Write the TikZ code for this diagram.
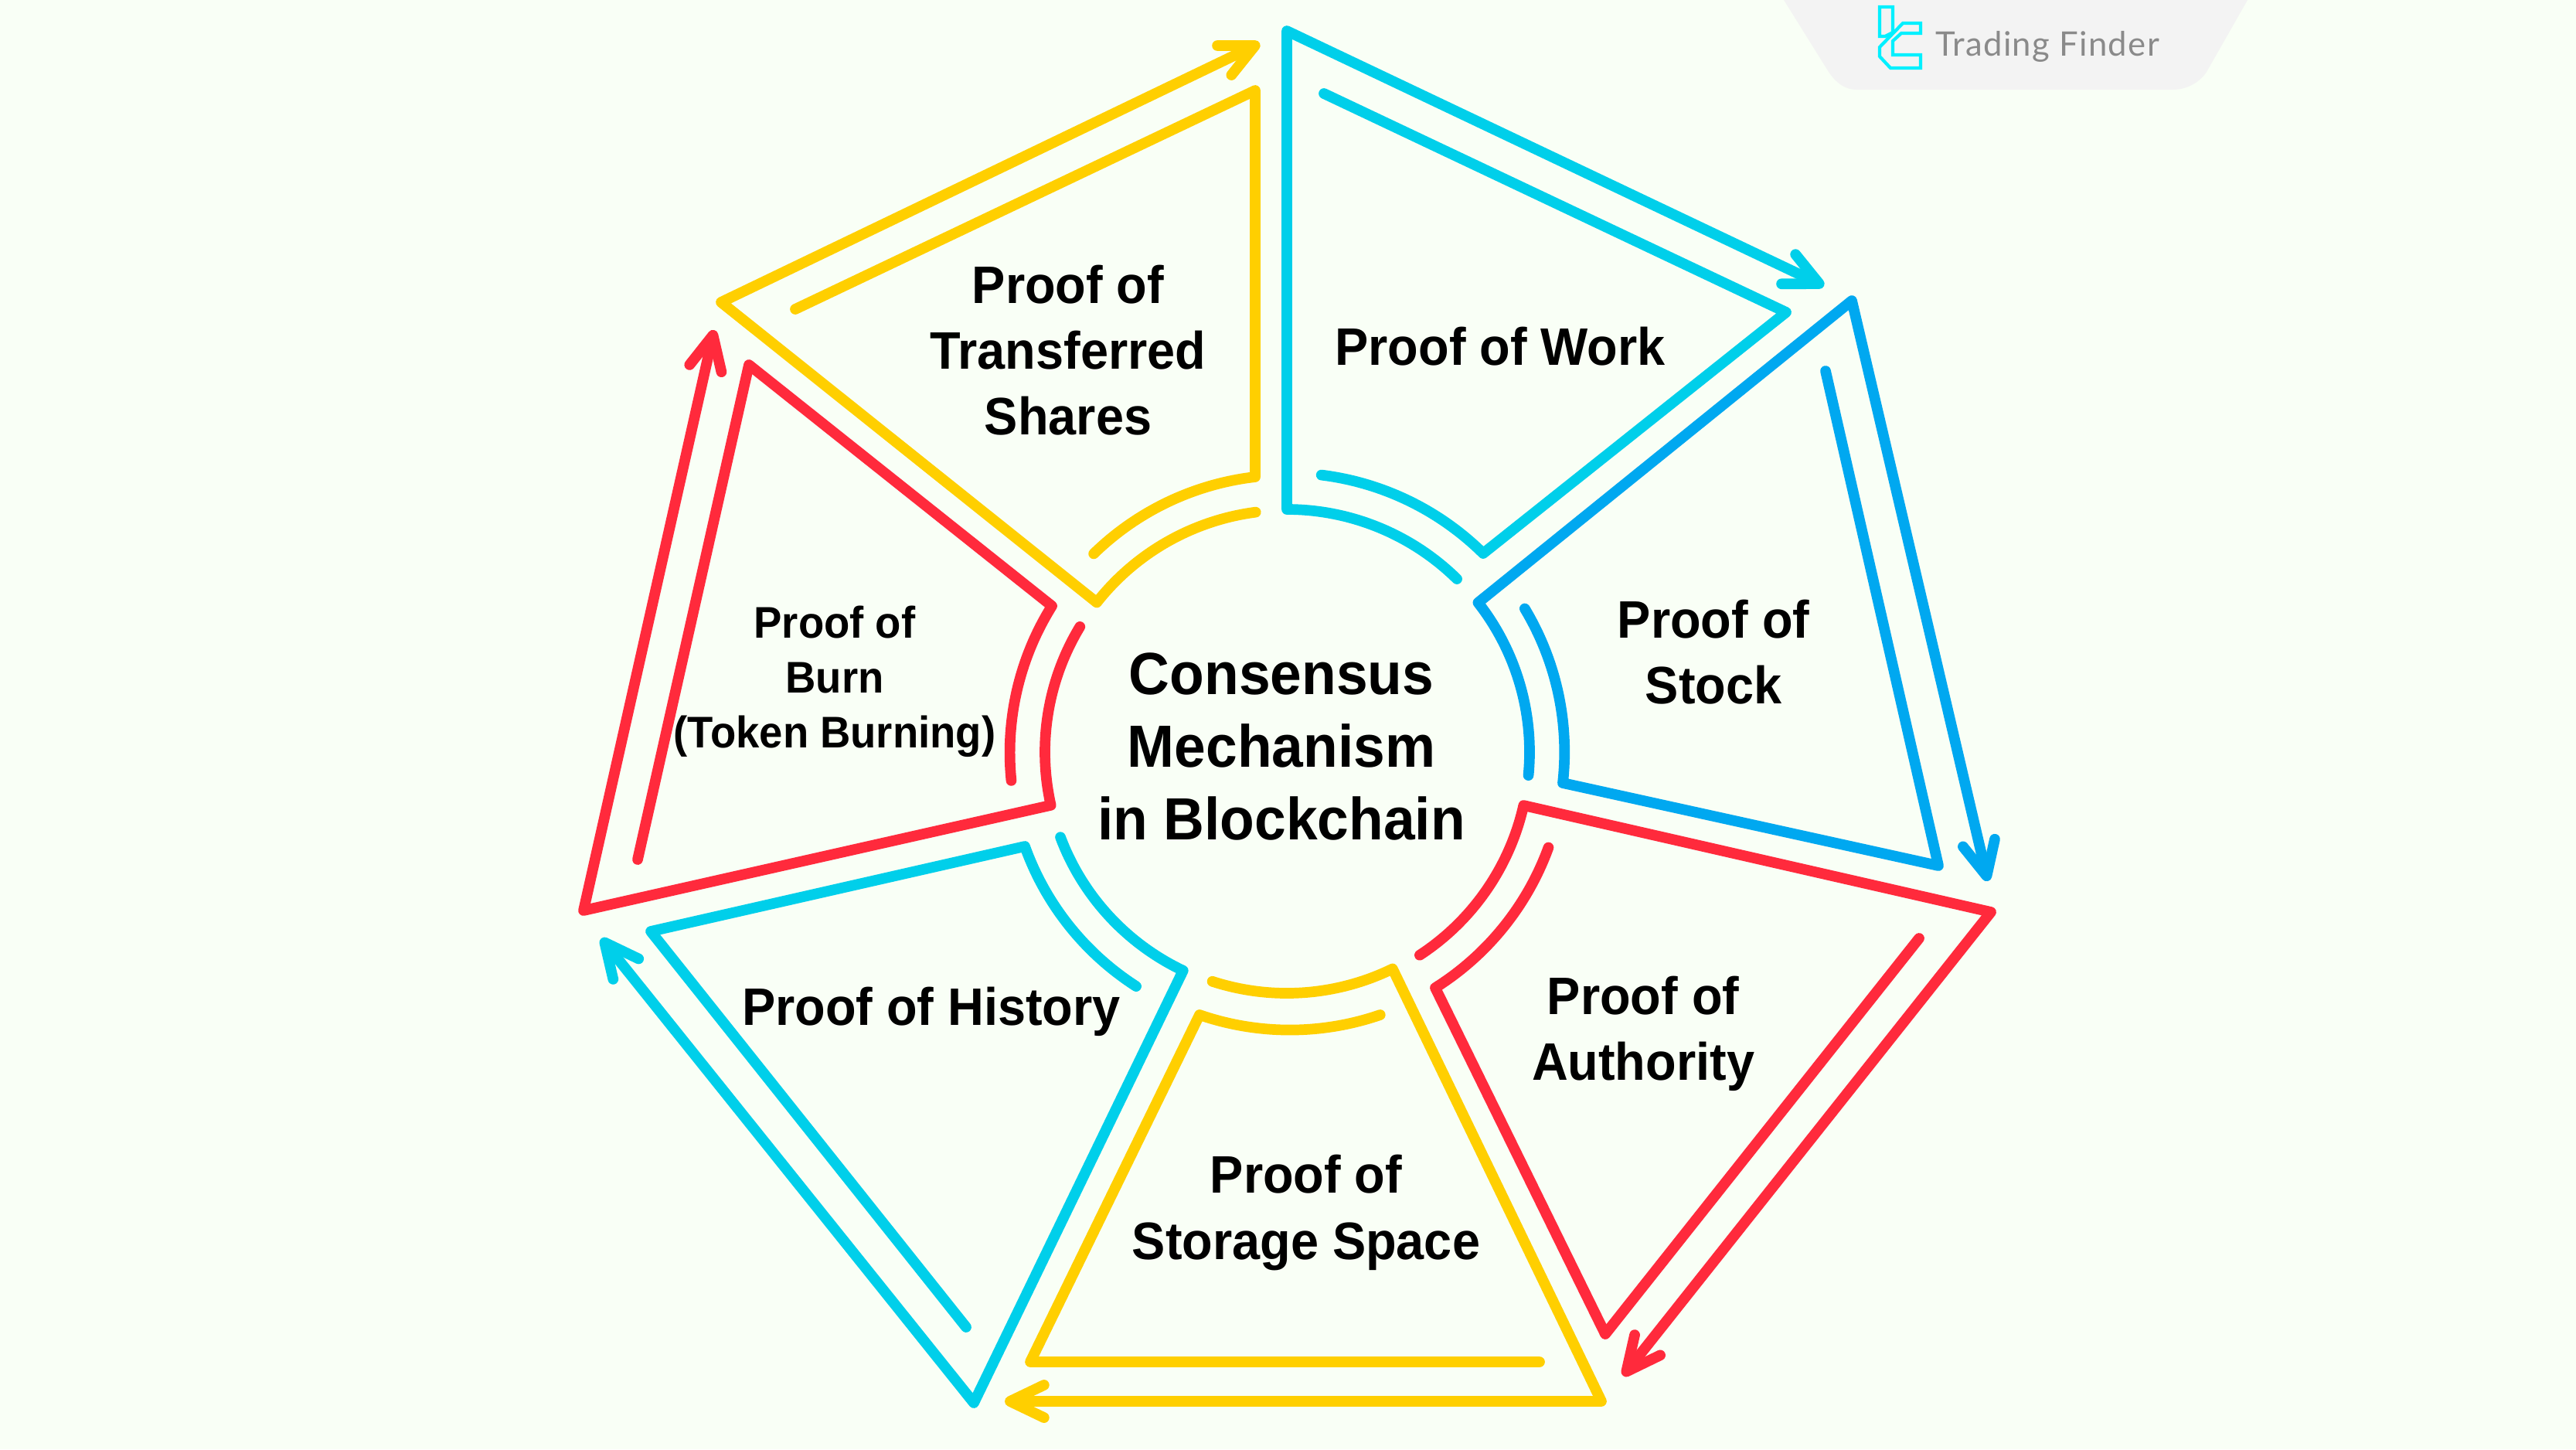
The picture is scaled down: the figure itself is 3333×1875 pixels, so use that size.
\documentclass[tikz,border=0pt]{standalone}
\usepackage{fontspec}
\usetikzlibrary{arrows.meta}
\setmainfont{Liberation Sans}[FakeStretch=0.95]
\newfontfamily\logofont{Lato}[LetterSpace=3]
\definecolor{paper}{HTML}{F9FFF6}
\definecolor{tabgray}{HTML}{F3F3F3}
\definecolor{logocyan}{HTML}{00F0FF}
\definecolor{logotext}{HTML}{8A8A8A}
\definecolor{cyanline}{HTML}{00CFEA}
\definecolor{blueline}{HTML}{00A8F0}
\definecolor{redline}{HTML}{FF2A3C}
\definecolor{goldline}{HTML}{FFCF00}
\tikzset{
  ring/.style={line width=3.9pt, line cap=round, line join=round},
  tip/.style={-{Straight Barb[round,length=12.5pt,width=12pt]}},
  logoline/.style={draw=logocyan, line width=1.2pt, line join=miter},
  bigtext/.style={font=\fontsize{21.9}{26.6}\selectfont\bfseries, align=center},
  midtext/.style={font=\fontsize{19.4}{24.2}\selectfont\bfseries, align=center},
  smalltext/.style={font=\fontsize{16.3}{20.2}\selectfont\bfseries, align=center}
}
\begin{document}
\begin{tikzpicture}[x=0.01cm, y=0.01cm]
\fill[paper] (0,0) rectangle (3333,-1875);
\useasboundingbox (0,0) rectangle (3333,-1875);
\coordinate (c) at (1665,-973);
% logo tab
\fill[tabgray] (2308,0) -- (2366,-93) .. controls (2376,-108) and (2388,-116) .. (2402,-116) -- (2811,-116) .. controls (2828,-116) and (2845,-108) .. (2855,-93) -- (2908,0) -- cycle;
\draw[logoline] (2432,-9) -- (2449,-9) -- (2449,-42) -- (2439,-47) -- (2432,-47) -- cycle;
\draw[logoline] (2462,-30) -- (2485,-30) -- (2485,-43) -- (2460,-43) -- (2449,-53) -- (2449,-71) -- (2485,-71) -- (2485,-88) -- (2446,-88) -- (2432,-73) -- (2432,-61) -- cycle;
\node (logo) [text=logotext, font=\logofont\fontsize{12.4}{14}\selectfont] at (2649,-60) {Trading Finder};
% proof of work
\draw[ring, cyanline, tip] (c) ++(45.5:314) arc (45.5:90:314) -- (1665,-40) -- (2360,-370);
\draw[ring, cyanline] (1713,-121) -- (2311,-404) -- (1919,-716) arc (45.3:83:360);
% proof of stock
\draw[ring, blueline, tip] (c) ++(-5.5:314) arc (-5.5:38:314) -- (2396,-389) -- (2572,-1140);
\draw[ring, blueline] (2362,-480) -- (2508,-1120) -- (2022,-1013) arc (-6.4:31:360);
% proof of authority
\draw[ring, redline, tip] (c) ++(-56.8:314) arc (-56.8:-12.7:314) -- (2576,-1180) -- (2100,-1780);
\draw[ring, redline] (2483,-1214) -- (2077,-1726) -- (1857,-1278) arc (-57.8:-20:360);
% proof of storage space
\draw[ring, goldline, tip] (c) ++(252:312) arc (252:296:312) -- (2072,-1813) -- (1300,-1813);
\draw[ring, goldline] (1992,-1762) -- (1333,-1762) -- (1552,-1313) arc (251:289:359);
% proof of history
\draw[ring, cyanline, tip] (c) ++(200.6:313) arc (200.6:244.6:313) -- (1260,-1815) -- (778,-1214);
\draw[ring, cyanline] (1250,-1717) -- (842,-1205) -- (1326,-1095) arc (199.7:237.3:359);
% proof of burn
\draw[ring, redline, tip] (c) ++(148.8:313) arc (148.8:192.7:313) -- (755,-1178) -- (924,-427);
\draw[ring, redline] (825,-1112) -- (969,-472) -- (1361,-784) arc (148:185.8:358);
% proof of transferred shares
\draw[ring, goldline, tip] (c) ++(97.4:313) arc (97.4:141.8:313) -- (933,-391) -- (1630,-56);
\draw[ring, goldline] (1029,-400) -- (1624,-117) -- (1624,-617) arc (96.6:134.3:358);
% labels
\node (center) [bigtext] at (1658,-966) {Consensus\\Mechanism\\in Blockchain};
\node (work) [midtext] at (1941,-448) {Proof of Work};
\node (stock) [midtext] at (2217,-844) {Proof of\\Stock};
\node (authority) [midtext] at (2126,-1337) {Proof of\\Authority};
\node (storage) [midtext] at (1690,-1569) {Proof of\\Storage Space};
\node (history) [midtext] at (1205,-1309) {Proof of History};
\node (burn) [smalltext] at (1080,-882) {Proof of\\Burn\\(Token Burning)};
\node (shares) [midtext] at (1382,-453) {Proof of\\Transferred\\Shares};
\end{tikzpicture}
\end{document}
